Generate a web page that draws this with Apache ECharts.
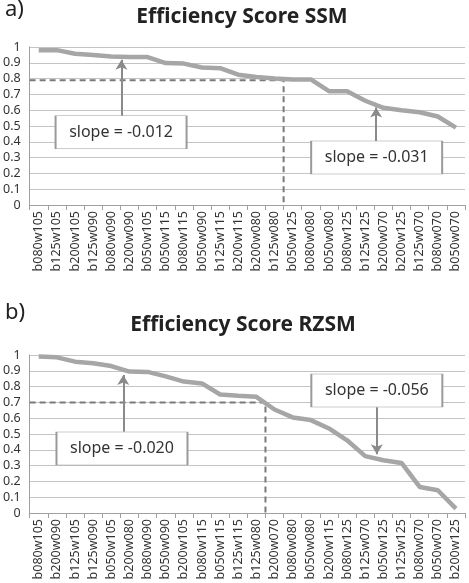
<!DOCTYPE html>
<html><head><meta charset="utf-8">
<script src="https://cdn.jsdelivr.net/npm/echarts@6/dist/echarts.min.js"></script>
<style>html,body{margin:0;padding:0;background:#fff}#c{width:469px;height:583px}</style>
</head><body><div id="c"></div>
<script>
const catsSSM = ['b080w105','b125w105','b200w105','b125w090','b080w090','b200w090','b050w105','b050w115','b080w115','b050w090','b125w115','b200w115','b200w080','b125w080','b050w125','b080w080','b050w080','b080w125','b125w125','b200w070','b200w125','b125w070','b080w070','b050w070'];
const valsSSM = [0.98,0.98,0.957,0.949,0.94,0.937,0.936,0.898,0.895,0.87,0.866,0.825,0.81,0.80,0.795,0.795,0.72,0.72,0.66,0.615,0.60,0.587,0.56,0.49];
const catsRZSM = ['b080w105','b200w090','b125w105','b125w090','b050w105','b200w080','b080w090','b050w090','b200w105','b080w115','b050w115','b125w115','b125w080','b200w070','b080w080','b050w080','b200w115','b080w125','b125w070','b050w125','b125w125','b080w070','b050w070','b200w125'];
const valsRZSM = [0.99,0.985,0.958,0.948,0.93,0.895,0.893,0.865,0.832,0.82,0.75,0.742,0.735,0.655,0.605,0.588,0.535,0.46,0.36,0.334,0.317,0.165,0.144,0.028];
const yTicks = [0,0.1,0.2,0.3,0.4,0.5,0.6,0.7,0.8,0.9,1];
// dashed threshold guides: [boundary index, score]
const guideSSM = [14, 0.79];
const guideRZSM = [13, 0.70];
// slope annotations: text, box centre [x,y], arrow from [x,y] to [x,y] (in category/score units)
const annSSM = [
  {text:'slope = -0.012', box:[5.04,0.46], from:[5.06,0.564], to:[5.06,0.92]},
  {text:'slope = -0.031', box:[19.13,0.30], from:[19.1,0.40], to:[19.1,0.617]}
];
const annRZSM = [
  {text:'slope = -0.020', box:[5.09,0.408], from:[5.16,0.514], to:[5.16,0.873]},
  {text:'slope = -0.056', box:[19.14,0.775], from:[19.14,0.67], to:[19.14,0.372]}
];

const FONT = 'Noto Sans';
const chart = echarts.init(document.getElementById('c'));
function grid(top){ return {left:29, right:4, top:top, height:158, containLabel:false}; }
function catAxis(gi, cats){
  return {type:'category', gridIndex:gi, data:cats, boundaryGap:true,
    axisLine:{lineStyle:{color:'#a0a0a0', width:1}},
    axisTick:{show:true, length:5, alignWithLabel:false, lineStyle:{color:'#a0a0a0'}},
    axisLabel:{interval:0, rotate:90, margin:6, color:'#333', fontSize:12.5, fontFamily:FONT}};
}
function valXAxis(gi){ return {type:'value', gridIndex:gi, min:0, max:24, show:false}; }
function yAxis(gi){
  return {type:'value', gridIndex:gi, min:0, max:1, interval:0.1,
    axisLine:{show:true, lineStyle:{color:'#a0a0a0'}},
    axisTick:{show:false},
    splitLine:{lineStyle:{color:'#c4c4c4', width:1}},
    axisLabel:{color:'#333', fontSize:12.5, fontFamily:FONT, margin:9,
      formatter:v=>{ const t=yTicks.find(x=>Math.abs(x-v)<1e-6); return t===undefined?'':String(t);} }};
}
function lineSeries(xi, yi, vals){
  return {type:'line', xAxisIndex:xi, yAxisIndex:yi, data:vals, symbol:'none', smooth:false,
    lineStyle:{color:'#a6a6a6', width:4.5}, z:3, silent:true};
}
function guideSeries(xi, yi, g, ann){
  return {type:'line', xAxisIndex:xi, yAxisIndex:yi, symbol:'none', silent:true, z:2,
    data:[[0,g[1]],[g[0],g[1]],[g[0],0]],
    lineStyle:{color:'#7a7a7a', width:2, type:[6,4]},
    markLine:{silent:true, symbol:['none','arrow'], symbolSize:[9,10], z:4,
      lineStyle:{color:'#8a8a8a', width:2, type:'solid'}, label:{show:false},
      data: ann.map(a=>[{coord:a.from},{coord:a.to}])},
    markPoint:{silent:true, z:5, symbol:'rect', symbolSize:[131,33],
      itemStyle:{color:'#fff', borderColor:'#9a9a9a', borderWidth:1},
      label:{show:true, position:'inside', color:'#333', fontSize:16, fontFamily:FONT},
      data: ann.map(a=>({coord:a.box, value:a.text, label:{formatter:a.text}}))}
  };
}
chart.setOption({
  animation:false,
  title:[
    {text:'a)', left:0, top:-6, textStyle:{fontSize:22, fontWeight:'normal', color:'#222', fontFamily:FONT}},
    {text:'Efficiency Score SSM', left:237, top:2, textAlign:'center', textStyle:{fontSize:21, fontWeight:'bold', color:'#222', fontFamily:FONT}},
    {text:'b)', left:0, top:297, textStyle:{fontSize:22, fontWeight:'normal', color:'#222', fontFamily:FONT}},
    {text:'Efficiency Score RZSM', left:238, top:310, textAlign:'center', textStyle:{fontSize:21, fontWeight:'bold', color:'#222', fontFamily:FONT}}
  ],
  grid:[grid(47), grid(355)],
  xAxis:[catAxis(0,catsSSM), valXAxis(0), catAxis(1,catsRZSM), valXAxis(1)],
  yAxis:[yAxis(0), yAxis(1)],
  series:[
    lineSeries(0,0,valsSSM),
    guideSeries(1,0,guideSSM,annSSM),
    lineSeries(2,1,valsRZSM),
    guideSeries(3,1,guideRZSM,annRZSM)
  ]
});
</script></body></html>
